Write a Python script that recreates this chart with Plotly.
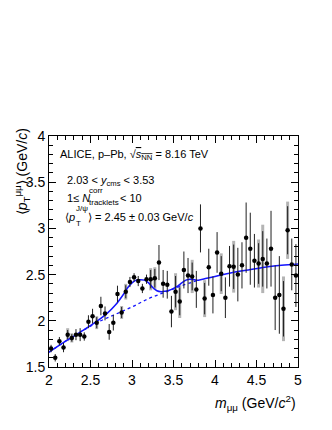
import plotly.graph_objects as go

# bin centres of m_mumu (GeV/c^2)
mass = [2.025 + 0.05 * i for i in range(60)]

mean_pt = [1.70, 1.60, 1.78, 1.71, 1.85, 1.815, 1.85, 1.85, 1.83, 1.99,
           2.05, 1.98, 2.16, 2.08, 1.88, 1.98, 2.29, 2.09, 2.315, 2.42,
           2.47, 2.43, 2.35, 2.45, 2.45, 2.46, 2.63, 2.40, 2.39, 2.10,
           2.315, 2.21, 2.55, 2.49, 2.48, 2.34, 3.00, 2.24, 2.58, 2.28,
           2.74, 2.51, 2.25, 2.59, 2.585, 2.50, 2.60, 2.90, 2.78, 2.65,
           2.62, 2.67, 2.62, 2.78, 2.25, 2.28, 2.13, 2.98, 2.61, 2.49]

stat_err = [0.04, 0.04, 0.045, 0.05, 0.05, 0.04, 0.06, 0.07, 0.045, 0.07,
            0.08, 0.06, 0.10, 0.075, 0.085, 0.085, 0.09, 0.06, 0.07, 0.055,
            0.045, 0.055, 0.05, 0.05, 0.10, 0.10, 0.19, 0.15, 0.15, 0.17,
            0.17, 0.15, 0.20, 0.19, 0.15, 0.20, 0.26, 0.17, 0.20, 0.20,
            0.22, 0.19, 0.22, 0.22, 0.24, 0.29, 0.25, 0.38, 0.39, 0.29,
            0.22, 0.30, 0.27, 0.41, 0.35, 0.42, 0.30, 0.26, 0.28, 0.34]

syst_err = [0, 0, 0, 0, 0.07, 0.05, 0, 0, 0, 0,
            0, 0.07, 0, 0, 0, 0, 0, 0.07, 0.085, 0,
            0, 0, 0, 0, 0.12, 0.12, 0, 0, 0, 0,
            0.20, 0.18, 0, 0, 0.18, 0, 0, 0.20, 0, 0,
            0, 0.22, 0, 0, 0.28, 0, 0, 0, 0, 0,
            0.26, 0.37, 0, 0, 0, 0, 0.35, 0.31, 0, 0]

# fit curves
fit_m = [2.0, 2.2, 2.4, 2.6, 2.7, 2.8, 2.9, 2.95, 3.0, 3.05, 3.1, 3.15, 3.2,
         3.25, 3.3, 3.35, 3.4, 3.45, 3.5, 3.55, 3.6, 3.65, 3.7, 3.75, 3.8,
         3.9, 4.0, 4.2, 4.4, 4.6, 4.8, 5.0]
fit_total = [1.66, 1.78, 1.89, 2.01, 2.08, 2.17, 2.29, 2.36, 2.41, 2.44, 2.445,
             2.44, 2.41, 2.36, 2.325, 2.315, 2.32, 2.33, 2.35, 2.375, 2.41,
             2.44, 2.45, 2.445, 2.44, 2.46, 2.48, 2.52, 2.55, 2.58, 2.60, 2.615]
bkg_m = [2.0, 2.2, 2.4, 2.6, 2.8, 3.0, 3.2, 3.4, 3.6, 3.8]
bkg_pt = [1.66, 1.78, 1.89, 1.99, 2.07, 2.15, 2.24, 2.31, 2.38, 2.44]

FONT = "Liberation Sans, Arial, sans-serif"
BLUE = "#1414ff"

fig = go.Figure()

# systematic uncertainties (grey boxes)
fig.add_trace(go.Scatter(
    x=mass, y=mean_pt, mode="markers",
    marker=dict(size=0.1, color="rgba(0,0,0,0)"),
    error_y=dict(type="data", array=syst_err, color="#b4b4b4",
                 thickness=3, width=0),
    showlegend=False, hoverinfo="skip"))

fig.add_trace(go.Scatter(
    x=bkg_m, y=bkg_pt, mode="lines",
    line=dict(color=BLUE, width=1.3, dash="dot", shape="spline"),
    showlegend=False))

fig.add_trace(go.Scatter(
    x=fit_m, y=fit_total, mode="lines",
    line=dict(color=BLUE, width=1.5, shape="spline"),
    showlegend=False))

fig.add_trace(go.Scatter(
    x=mass, y=mean_pt, mode="markers",
    marker=dict(size=4.5, color="black"),
    error_y=dict(type="data", array=stat_err, color="#202020",
                 thickness=1, width=0),
    showlegend=False))

axis_common = dict(
    showline=True, linecolor="black", linewidth=1, mirror="ticks",
    ticks="inside", ticklen=7, tickcolor="black", showgrid=False,
    zeroline=False, tickfont=dict(family=FONT, size=14, color="black"),
    minor=dict(ticks="inside", ticklen=4, dtick=0.1, tickcolor="black"),
)

fig.update_xaxes(range=[2, 5], dtick=0.5, tick0=2, **axis_common)
fig.update_yaxes(range=[1.5, 4], dtick=0.5, tick0=1.5, **axis_common)

small = dict(family=FONT, size=8, color="black")
ann_font = dict(family=FONT, size=11, color="black")
annotations = [
    dict(x=0.038, y=0.918,
         text="ALICE, p–Pb, √<span style='text-decoration:overline'><i>s</i><sub>NN</sub></span> = 8.16 TeV",
         xanchor="left", yanchor="middle"),
    dict(x=0.066, y=0.804, text="2.03 < <i>y</i><sub>cms</sub> < 3.53",
         xanchor="left", yanchor="middle"),
    dict(x=0.066, y=0.731, text="1≤ <i>N</i>", xanchor="left", yanchor="middle"),
    dict(x=0.153, y=0.762, text="corr", xanchor="left", yanchor="middle", font=small),
    dict(x=0.153, y=0.714, text="tracklets", xanchor="left", yanchor="middle", font=small),
    dict(x=0.278, y=0.731, text="< 10", xanchor="left", yanchor="middle"),
    dict(x=0.055, y=0.650, text="⟨<i>p</i>", xanchor="left", yanchor="middle"),
    dict(x=0.102, y=0.688, text="J/ψ", xanchor="left", yanchor="middle", font=small),
    dict(x=0.102, y=0.622, text="T", xanchor="left", yanchor="middle", font=small),
    dict(x=0.150, y=0.650, text="⟩ = 2.45 ± 0.03 GeV/<i>c</i>",
         xanchor="left", yanchor="middle"),
    dict(x=1.0, y=-0.157, text="<i>m</i><sub>μμ</sub> (GeV/<i>c</i><sup>2</sup>)",
         xanchor="right", yanchor="middle",
         font=dict(family=FONT, size=14, color="black")),
    dict(x=-0.108, y=1.04, text="⟨<i>p</i><sub>T</sub><sup>μμ</sup>⟩ (GeV/<i>c</i>)",
         textangle=-90, xanchor="center", yanchor="top",
         font=dict(family=FONT, size=14, color="black")),
]
for a in annotations:
    a.setdefault("font", ann_font)
    a.update(xref="paper", yref="paper", showarrow=False)

# page body adds an 8 px margin, so the figure is drawn 8 px smaller
fig.update_layout(
    width=324, height=422,
    margin=dict(l=41, r=34, t=128, b=63),
    paper_bgcolor="white", plot_bgcolor="white",
    annotations=annotations,
    font=dict(family=FONT),
)

fig.write_html("out.html")
